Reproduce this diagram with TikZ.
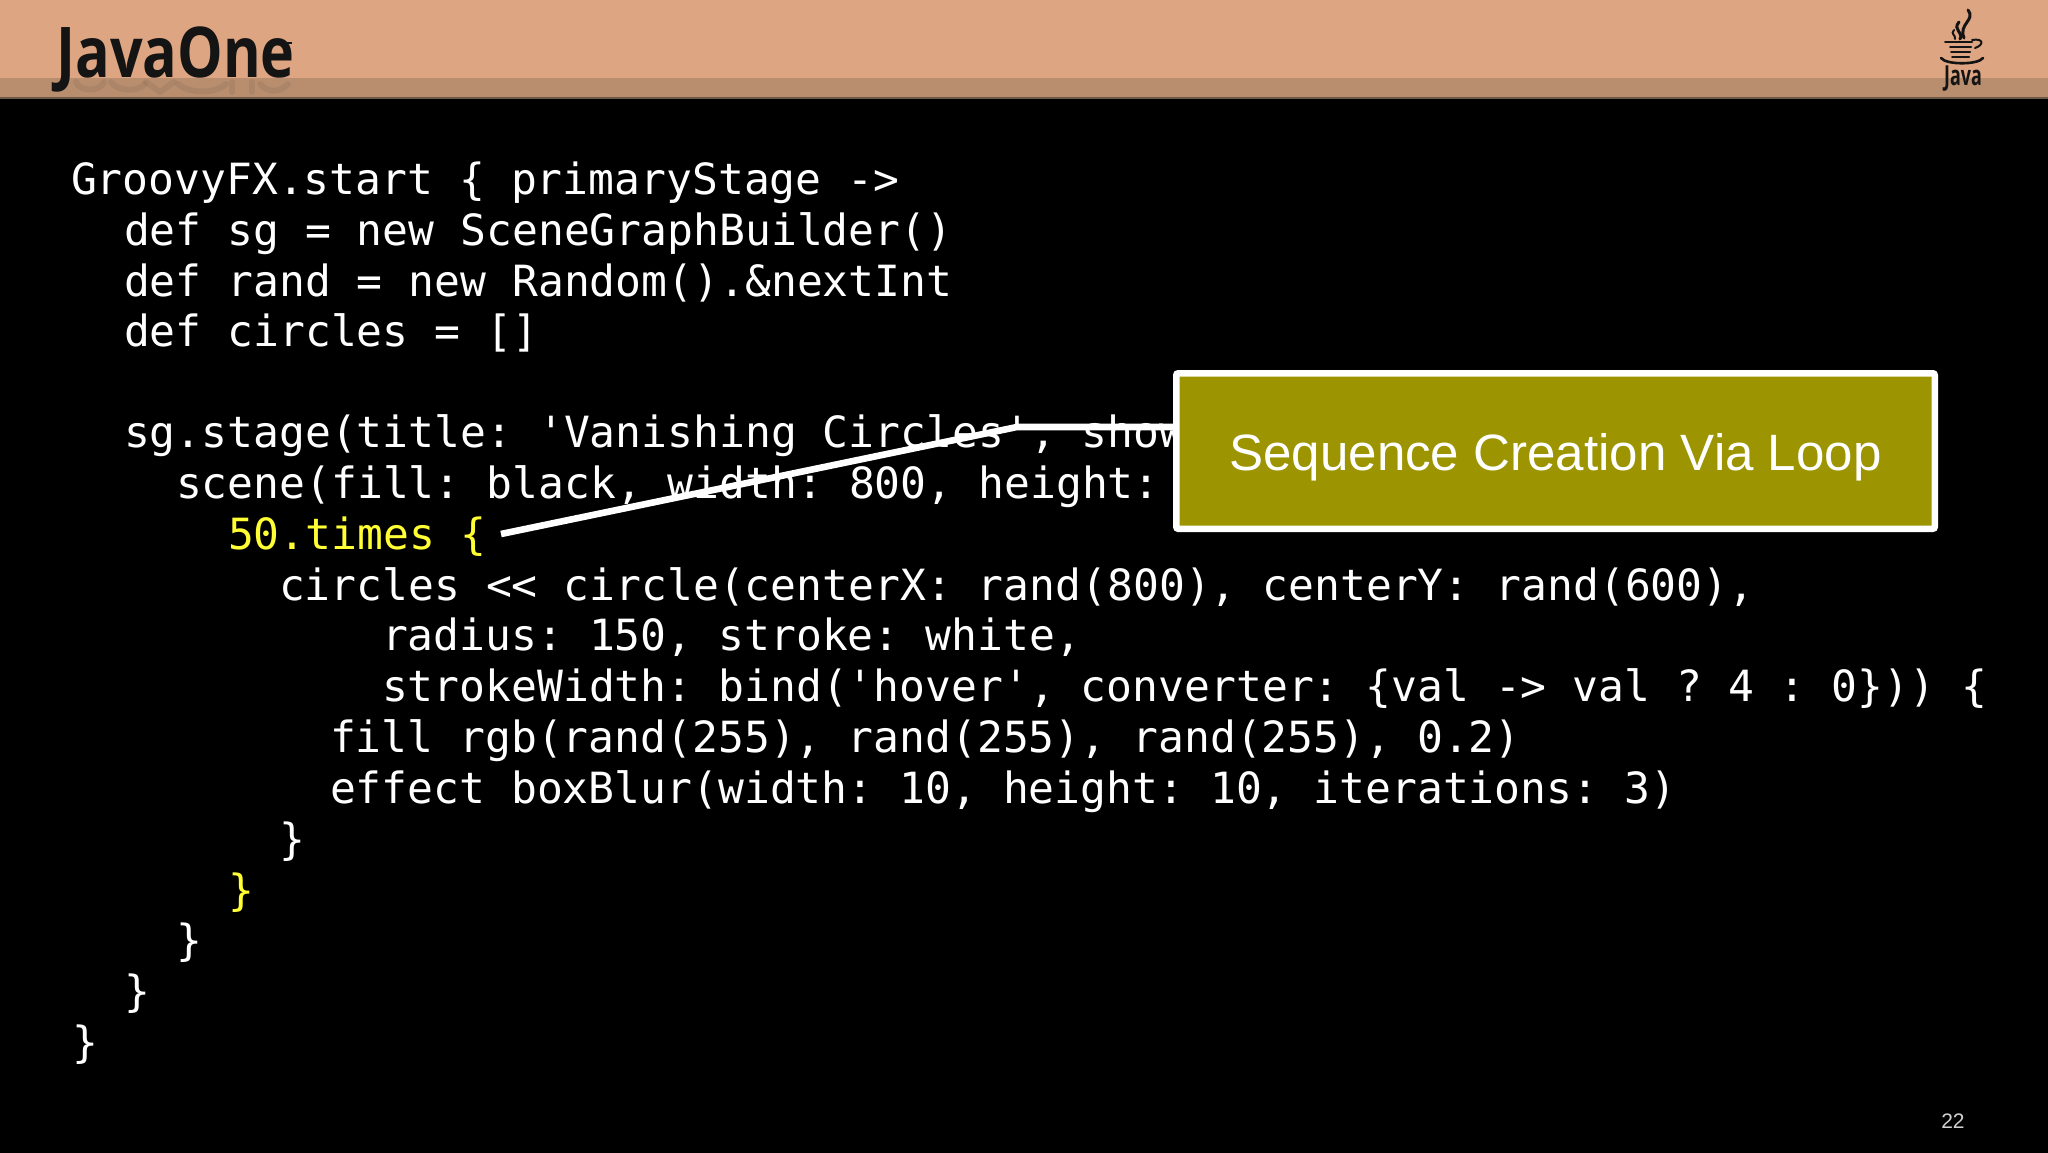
\documentclass[tikz,border=0pt]{standalone}
\usepackage{fontspec}
\setmainfont{Liberation Sans}
\newfontfamily\codefont{DejaVu Sans Mono}
\newfontfamily\logofont{Open Sans}
\definecolor{hdr}{HTML}{DDA581}
\definecolor{hdrlow}{HTML}{B88E6F}
\definecolor{hdrline}{HTML}{6E5A48}
\definecolor{olivebox}{HTML}{9C9400}
\definecolor{codeyellow}{HTML}{FFFF33}
\definecolor{logoink}{HTML}{141414}
\definecolor{pagegrey}{HTML}{D0D0D0}
\tikzset{
 x=0.5pt,y=-0.5pt,
 code/.style={anchor=base west,inner sep=0pt,outer sep=0pt,text=white,font=\codefont\frenchspacing\fontsize{21.5}{21.5}\selectfont},
 hl/.style={code,text=codeyellow},
 callout/.style={draw=white,line width=3.25pt,rounded corners=1pt,fill=olivebox,minimum width=379.25pt,minimum height=77.75pt,inner sep=0pt,text=white,font=\fontsize{25.55}{25.55}\selectfont},
 leader/.style={draw=white,line width=3.3pt,line join=round},
 cup/.style={draw=logoink,line width=1pt,line cap=round,fill=none},
 steam/.style={cup,line width=1.5pt},
 glow/.style={draw=logoink,opacity=.07,line width=3pt,line cap=round}
}
\begin{document}
\begin{tikzpicture}
\useasboundingbox (0,0) rectangle (2048,1152);
\fill[black] (-10,-10) rectangle (2060,1165);
\fill[hdr] (-10,-10) rectangle (2060,78);
\fill[hdrlow] (-10,78) rectangle (2060,97);
\fill[hdrline] (-10,97) rectangle (2060,99);
% faint reflection of the logo
\draw[glow] (76,82) .. controls (80,92) and (100,92) .. (104,82);
\draw[glow] (111,82) .. controls (118,92) and (138,92) .. (145,84);
\draw[glow] (146,82) -- (160,92) -- (174,82);
\draw[glow] (178,84) .. controls (190,94) and (215,94) .. (226,84);
\draw[glow] (232,82) -- (232,92);
\draw[glow] (252,82) -- (252,92);
\draw[glow] (260,84) .. controls (268,93) and (280,93) .. (288,84);
\node[anchor=base west,inner sep=0pt,text=logoink,font=\logofont\bfseries\fontsize{35}{35}\selectfont] (logo) at (56,77) {\scalebox{.82}[1]{JavaOne}};
\draw[logoink,line width=.8pt] (284,43) -- (292,43);
% Java cup
\draw[steam] (1968,10) .. controls (1976,20) and (1958,24) .. (1964,38);
\draw[steam] (1959,22) .. controls (1952,30) and (1964,32) .. (1960,39);
\draw[cup] (1954,30) .. controls (1950,34) and (1956,35) .. (1955,39);
\draw[cup] (1945,42) -- (1972,42);
\draw[cup] (1950,47) -- (1971,47);
\draw[cup] (1951,52) -- (1970,52);
\draw[cup] (1952,57) -- (1969,57);
\draw[cup] (1972,40) .. controls (1984,38) and (1984,45) .. (1975,48);
\draw[cup,line width=1.3pt] (1941,58) .. controls (1946,65) and (1978,65) .. (1983,58);
\node[anchor=base,inner sep=0pt,text=logoink,font=\logofont\bfseries\fontsize{11.5}{11.5}\selectfont] (javaword) at (1963,85) {\scalebox{.78}[1.2]{Java}};
% code
\node[code] (l1) at (71,194) {GroovyFX.start \{ primaryStage ->};
\node[code] (l2) at (124,245) {def sg = new SceneGraphBuilder()};
\node[code] (l3) at (124,296) {def rand = new Random().\&nextInt};
\node[code] (l4) at (124,346) {def circles = []};
\node[code] (l6) at (124,447) {sg.stage(title: 'Vanishing Circles', show};
\node[code] (l7) at (176,498) {scene(fill: black, width: 800, height:};
\node[hl] (l8) at (228,549) {50.times \{};
\node[code] (l9) at (279,600) {circles << circle(centerX: rand(800), centerY: rand(600),};
\node[code] (l10) at (382,650) {radius: 150, stroke: white,};
\node[code] (l11) at (382,701) {strokeWidth: bind('hover', converter: \{val -> val ? 4 : 0\})) \{};
\node[code] (l12) at (330,752) {fill rgb(rand(255), rand(255), rand(255), 0.2)};
\node[code] (l13) at (330,803) {effect boxBlur(width: 10, height: 10, iterations: 3)};
\node[code] (l14) at (279,854) {\}};
\node[hl] (l15) at (228,905) {\}};
\node[code] (l16) at (176,955) {\}};
\node[code] (l17) at (124,1006) {\}};
\node[code] (l18) at (72,1057) {\}};
% callout
\node[callout] (box) at (1555.5,451) {\smash{\raisebox{-9.5pt}{Sequence Creation Via Loop}}};
\coordinate (tail) at (501,534);
\coordinate (bend) at (1017,427);
\draw[leader] (tail) -- (bend) -- (bend -| box.west);
\node[anchor=base east,inner sep=0pt,text=pagegrey,font=\fontsize{10.5}{10.5}\selectfont] (page) at (1965,1128) {22};
\end{tikzpicture}
\end{document}
